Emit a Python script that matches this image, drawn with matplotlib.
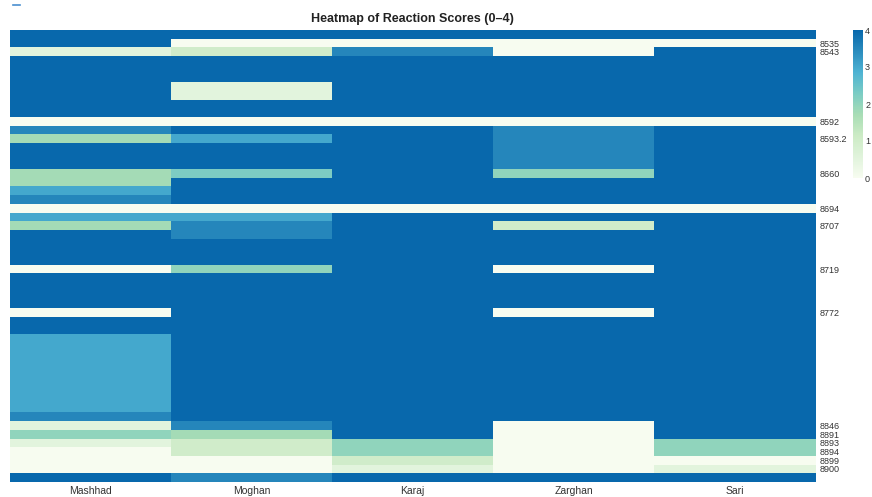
import numpy as np
import matplotlib
matplotlib.use("Agg")
import matplotlib.pyplot as plt
from matplotlib.colors import LinearSegmentedColormap
from matplotlib.lines import Line2D

plt.rcParams['font.family'] = ['Liberation Sans', 'DejaVu Sans']

# sites (columns) and mean reaction score per accession (rows, top to bottom)
sites = ["Mashhad", "Moghan", "Karaj", "Zarghan", "Sari"]

scores = [
    [4, 4, 4, 4, 4],
    [4, 0, 0, 0, 0],
    [0.5, 1, 3.5, 0, 4],
    [4, 4, 4, 4, 4],
    [4, 4, 4, 4, 4],
    [4, 4, 4, 4, 4],
    [4, 0.5, 4, 4, 4],
    [4, 0.5, 4, 4, 4],
    [4, 4, 4, 4, 4],
    [4, 4, 4, 4, 4],
    [0, 0, 0, 0, 0],
    [3.5, 4, 4, 3.5, 4],
    [1.75, 3, 4, 3.5, 4],
    [4, 4, 4, 3.5, 4],
    [4, 4, 4, 3.5, 4],
    [4, 4, 4, 3.5, 4],
    [1.75, 2.25, 4, 2, 4],
    [1.75, 4, 4, 4, 4],
    [3, 4, 4, 4, 4],
    [3.5, 4, 4, 4, 4],
    [0, 0, 0, 0, 0],
    [3, 3, 4, 4, 4],
    [1.75, 3.5, 4, 1, 4],
    [4, 3.5, 4, 4, 4],
    [4, 4, 4, 4, 4],
    [4, 4, 4, 4, 4],
    [4, 4, 4, 4, 4],
    [0, 2, 4, 0, 4],
    [4, 4, 4, 4, 4],
    [4, 4, 4, 4, 4],
    [4, 4, 4, 4, 4],
    [4, 4, 4, 4, 4],
    [0, 4, 4, 0, 4],
    [4, 4, 4, 4, 4],
    [4, 4, 4, 4, 4],
    [3, 4, 4, 4, 4],
    [3, 4, 4, 4, 4],
    [3, 4, 4, 4, 4],
    [3, 4, 4, 4, 4],
    [3, 4, 4, 4, 4],
    [3, 4, 4, 4, 4],
    [3, 4, 4, 4, 4],
    [3, 4, 4, 4, 4],
    [3, 4, 4, 4, 4],
    [3.5, 4, 4, 4, 4],
    [0.5, 3.5, 4, 0, 4],
    [2, 1.75, 4, 0, 4],
    [0.5, 1, 2, 0, 2],
    [0, 1, 2, 0, 2],
    [0, 0, 1, 0, 0],
    [0, 0, 0.5, 0, 0.5],
    [4, 3.5, 4, 4, 4],
]

# only some accession ids are printed on the axis
row_labels = {
    1: "8535", 2: "8543", 10: "8592", 12: "8593.2", 16: "8660",
    20: "8694", 22: "8707", 27: "8719", 32: "8772", 45: "8846",
    46: "8891", 47: "8893", 48: "8894", 49: "8899", 50: "8900",
}

gnbu = ["#f7fcf0", "#e0f3db", "#ccebc5", "#a8ddb5",
        "#7bccc4", "#4eb3d3", "#2b8cbe", "#0868ac"]
cmap = LinearSegmentedColormap.from_list("gnbu_short", gnbu)

data = np.array(scores, dtype=float)

fig = plt.figure(figsize=(8.72, 4.97), dpi=100)
ax = fig.add_axes([10 / 872, 15 / 497, 805 / 872, 452 / 497])
im = ax.imshow(data, aspect="auto", cmap=cmap, vmin=0, vmax=4,
               interpolation="nearest")

ax.set_xticks(range(len(sites)))
ax.set_xticklabels(sites, fontsize=7.5, color="#333333")
ticks = sorted(row_labels)
ax.set_yticks(ticks)
ax.set_yticklabels([row_labels[t] for t in ticks], fontsize=6.5, color="#333333")
ax.yaxis.tick_right()
ax.tick_params(axis="both", length=0)
ax.tick_params(axis="x", pad=3)
ax.tick_params(axis="y", pad=3)
for s in ax.spines.values():
    s.set_visible(False)

fig.text(412 / 872, 1 - 19 / 497, "Heatmap of Reaction Scores (0\u20134)",
         ha="center", va="center", fontsize=9, fontweight="bold", color="#222222")

cax = fig.add_axes([853 / 872, 1 - 178 / 497, 10 / 872, 148 / 497])
cb = fig.colorbar(im, cax=cax, ticks=[0, 1, 2, 3, 4])
cb.outline.set_visible(False)
cb.ax.tick_params(length=0, labelsize=6.5, labelcolor="#333333", pad=1.5)

# small mark in the top-left corner
fig.add_artist(Line2D([13 / 872, 20 / 872], [1 - 4.5 / 497, 1 - 4.5 / 497],
                      color="#4a8fd0", lw=1.2))

fig.savefig("out.png", dpi=100)
